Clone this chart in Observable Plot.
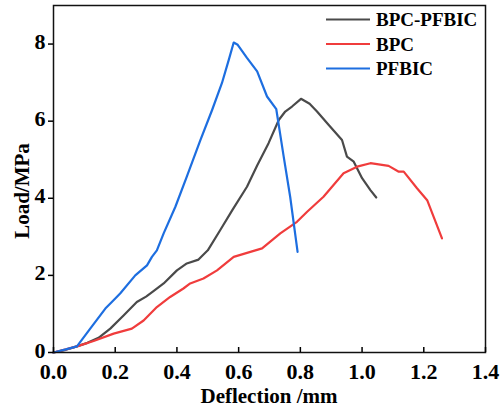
<!DOCTYPE html>
<html>
<head>
<meta charset="utf-8">
<script src="https://cdn.jsdelivr.net/npm/d3@7"></script>
<script src="https://cdn.jsdelivr.net/npm/@observablehq/plot@0.6"></script>
<style>
  html, body { margin: 0; padding: 0; background: #fff; }
  #chart { position: relative; width: 501px; height: 410px; }
</style>
</head>
<body>
<div id="chart"></div>
<script>
// Series names and colours
const seriesNames = ["BPC-PFBIC", "BPC", "PFBIC"];
const seriesColors = ["#4a4a4a", "#f03c3c", "#1d6ee0"];

// BPC-PFBIC
const hybridX = [0, 0.04, 0.076, 0.11, 0.146, 0.184, 0.227, 0.27, 0.3, 0.324, 0.357, 0.40, 0.432, 0.47, 0.50, 0.54, 0.58, 0.627, 0.66, 0.697, 0.73, 0.751, 0.773, 0.802, 0.83, 0.854, 0.892, 0.935, 0.951, 0.973, 1.0, 1.027, 1.046];
const hybridY = [0, 0.07, 0.16, 0.25, 0.38, 0.62, 0.96, 1.31, 1.45, 1.59, 1.79, 2.13, 2.31, 2.41, 2.65, 3.17, 3.7, 4.30, 4.85, 5.43, 6.03, 6.25, 6.38, 6.58, 6.45, 6.25, 5.90, 5.51, 5.08, 4.95, 4.52, 4.21, 4.02];

// BPC
const bpcX = [0, 0.04, 0.076, 0.13, 0.195, 0.254, 0.292, 0.335, 0.378, 0.421, 0.443, 0.486, 0.53, 0.584, 0.638, 0.676, 0.735, 0.789, 0.822, 0.875, 0.94, 0.984, 1.027, 1.086, 1.119, 1.135, 1.178, 1.211, 1.232, 1.259];
const bpcY = [0, 0.08, 0.16, 0.3, 0.49, 0.62, 0.83, 1.18, 1.44, 1.66, 1.79, 1.92, 2.13, 2.48, 2.61, 2.70, 3.09, 3.39, 3.65, 4.04, 4.65, 4.82, 4.91, 4.84, 4.69, 4.69, 4.26, 3.95, 3.52, 2.96];

// PFBIC
const pfbicX = [0, 0.04, 0.076, 0.119, 0.168, 0.189, 0.216, 0.265, 0.303, 0.319, 0.335, 0.357, 0.395, 0.432, 0.476, 0.514, 0.546, 0.568, 0.584, 0.597, 0.627, 0.66, 0.692, 0.722, 0.746, 0.767, 0.791];
const pfbicY = [0, 0.08, 0.16, 0.62, 1.14, 1.31, 1.53, 2.0, 2.26, 2.48, 2.65, 3.09, 3.78, 4.56, 5.51, 6.29, 6.99, 7.59, 8.04, 7.98, 7.64, 7.29, 6.64, 6.31, 5.08, 4.04, 2.61];

// Axis ticks
const xTicks = [0, 0.2, 0.4, 0.6, 0.8, 1.0, 1.2, 1.4];
const yTicks = [0, 2, 4, 6, 8];
const xTitle = "Deflection /mm";
const yTitle = "Load/MPa";

const toRows = (xs, ys, name) => xs.map((x, i) => ({x, y: ys[i], series: name}));
const data = [
  ...toRows(hybridX, hybridY, seriesNames[0]),
  ...toRows(bpcX, bpcY, seriesNames[1]),
  ...toRows(pfbicX, pfbicY, seriesNames[2])
];

const font = "'Liberation Serif', 'Times New Roman', serif";
const W = 501, H = 410;
const mL = 53, mR = 16, mT = 5, mB = 58;

const plot = Plot.plot({
  width: W,
  height: H,
  marginLeft: mL,
  marginRight: mR,
  marginTop: mT,
  marginBottom: mB,
  style: {fontFamily: font, fontWeight: "bold", fontSize: "22px", color: "#000", background: "#fff"},
  x: {domain: [0, 1.4]},
  y: {domain: [0, 9.0]},
  color: {domain: seriesNames, range: seriesColors},
  marks: [
    Plot.line(data, {x: "x", y: "y", z: "series", stroke: "series", strokeWidth: 2.2, strokeLinejoin: "round", strokeLinecap: "round"}),
    Plot.frame({stroke: "#111", strokeWidth: 1.5}),
    Plot.axisX({ticks: xTicks, tickFormat: d3.format(".1f"), tickSize: -5, tickPadding: 16, label: null, strokeWidth: 1.5, fontSize: 22, fontWeight: "bold", fontFamily: font}),
    Plot.axisY({ticks: yTicks, tickFormat: d3.format("d"), tickSize: 5, tickPadding: 3, label: null, strokeWidth: 1.5, fontSize: 22, fontWeight: "bold", fontFamily: font})
  ]
});

document.getElementById("chart").appendChild(plot);

// Axis titles and legend added to the svg
const svg = d3.select(plot);

// nudge y tick labels slightly upward
svg.selectAll('g[aria-label="y-axis tick label"]').each(function() {
  const g = d3.select(this);
  const t = g.attr("transform") || "";
  g.attr("transform", (t + " translate(0,-2)").trim());
});

svg.append("text")
  .attr("x", mL + (W - mL - mR) / 2)
  .attr("y", 403)
  .attr("text-anchor", "middle")
  .style("font-size", "21px")
  .attr("fill", "#000")
  .text(xTitle);
svg.append("text")
  .attr("transform", `translate(29,191) rotate(-90)`)
  .attr("text-anchor", "middle")
  .style("font-size", "21px")
  .attr("fill", "#000")
  .text(yTitle);

const leg = svg.append("g");
seriesNames.forEach((name, i) => {
  const cy = 19.5 + i * 24.5;
  leg.append("line")
    .attr("x1", 326).attr("x2", 370).attr("y1", cy).attr("y2", cy)
    .attr("stroke", seriesColors[i]).attr("stroke-width", 2.2);
  leg.append("text")
    .attr("x", 376).attr("y", cy).attr("dy", "0.35em")
    .attr("text-anchor", "start")
    .style("font-size", "19px")
    .attr("fill", "#000")
    .text(name);
});

// enforce serif bold on every text element
svg.selectAll("text, g")
  .style("font-family", font)
  .style("font-weight", "bold");
</script>
</body>
</html>
